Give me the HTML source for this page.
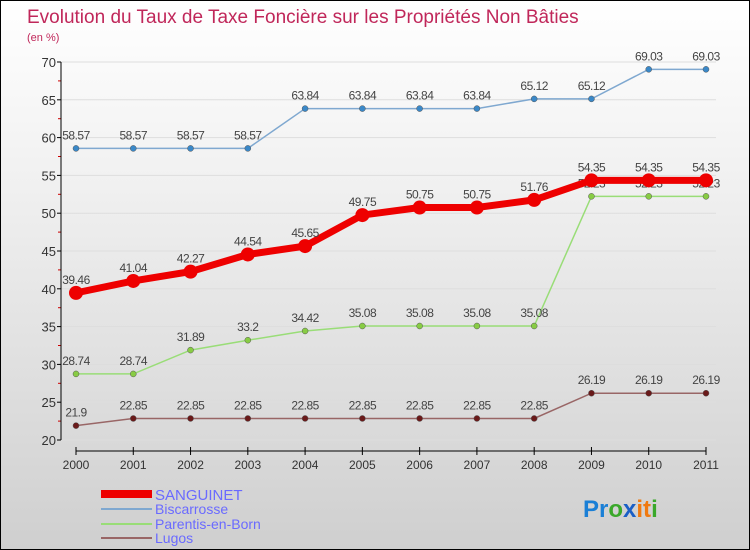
<!DOCTYPE html>
<html><head><meta charset="utf-8"><style>
body{margin:0;background:#fff}
#c{position:relative;width:748px;height:548px;border:1px solid #000;background:linear-gradient(#fff,#f2f2f2 30%,#cfcfcf);font-family:"Liberation Sans",sans-serif;overflow:hidden}
</style></head><body>
<div id="c">
<svg id="s" width="748" height="548">
<text x="26" y="22" font-size="19" fill="#c0275a">Evolution du Taux de Taxe Foncière sur les Propriétés Non Bâties</text>
<text x="26" y="40" font-size="11" fill="#c0275a">(en %)</text>
<g id="g"></g>
<g>
<rect x="100" y="489" width="51" height="8" fill="#e00"/>
<text x="154" y="499" font-size="15" fill="#6a6aff">SANGUINET</text>
<line x1="100" y1="508" x2="151" y2="508" stroke="#7fa8d0" stroke-width="2"/>
<text x="154" y="513" font-size="14" fill="#6a6aff">Biscarrosse</text>
<line x1="100" y1="523" x2="151" y2="523" stroke="#99dd77" stroke-width="2"/>
<text x="154" y="528" font-size="14" fill="#6a6aff">Parentis-en-Born</text>
<line x1="100" y1="537" x2="151" y2="537" stroke="#996666" stroke-width="2"/>
<text x="154" y="542" font-size="14" fill="#6a6aff">Lugos</text>
</g>
<text x="582" y="516" font-size="24" font-weight="bold"><tspan fill="#1a7fd6">Pr</tspan><tspan fill="#3aa82a">o</tspan><tspan fill="#1a5fc6">x</tspan><tspan fill="#f07a10">it</tspan><tspan fill="#3aa82a">i</tspan></text>
</svg>
</div>
<script>
const years=[2000,2001,2002,2003,2004,2005,2006,2007,2008,2009,2010,2011];
const yTicks=[20,25,30,35,40,45,50,55,60,65,70];
const sanguinet=[39.46,41.04,42.27,44.54,45.65,49.75,50.75,50.75,51.76,54.35,54.35,54.35];
const biscarrosse=[58.57,58.57,58.57,58.57,63.84,63.84,63.84,63.84,65.12,65.12,69.03,69.03];
const parentis=[28.74,28.74,31.89,33.2,34.42,35.08,35.08,35.08,35.08,52.23,52.23,52.23];
const lugos=[21.9,22.85,22.85,22.85,22.85,22.85,22.85,22.85,22.85,26.19,26.19,26.19];
const NS="http://www.w3.org/2000/svg",g=document.getElementById('g');
const X=i=>75+i*(630/11), Y=v=>439-(v-20)*(378/50);
function el(t,a,p){const e=document.createElementNS(NS,t);for(const k in a)e.setAttribute(k,a[k]);(p||g).appendChild(e);return e;}
// grid
yTicks.forEach(v=>{const l=el('line',{x1:60,x2:715,y1:Y(v),y2:Y(v),stroke:'#ddd'});


const t=el('text',{x:55,y:Y(v)+5,'font-size':13,fill:'#333','text-anchor':'end'});t.textContent=v;


el('line',{x1:56,x2:60,y1:Y(v),y2:Y(v),stroke:'#000'});
if(v<70)el('line',{x1:57,x2:60,y1:Y(v+2.5),y2:Y(v+2.5),stroke:'#c00'});});
el('line',{x1:60,x2:60,y1:Y(70),y2:Y(20),stroke:'#000'});
el('line',{x1:75,x2:705,y1:450,y2:450,stroke:'#000'});
years.forEach((y,i)=>{el('line',{x1:X(i),x2:X(i),y1:446,y2:454,stroke:'#000'});
const t=el('text',{x:X(i),y:468,'font-size':12,fill:'#333','text-anchor':'middle'});t.textContent=y;

});
function series(d,col,pt,w,r,name){
const p=el('polyline',{points:d.map((v,i)=>X(i)+','+Y(v)).join(' '),fill:'none',stroke:col,'stroke-width':w});


d.forEach((v,i)=>{const c=el('circle',{cx:X(i),cy:Y(v),r:r,fill:pt,stroke:w>3?'none':'#555','stroke-width':0.5});


const t=el('text',{x:X(i),y:Y(v)-9,'font-size':12,fill:'#444','text-anchor':'middle','letter-spacing':'-0.5'});t.textContent=v;

});}
series(biscarrosse,'#7fa8d0','#3a88c8',1.5,3,'biscarrosse');
series(parentis,'#99dd77','#88cc44',1.5,3,'parentis');
series(lugos,'#996666','#6a1a1a',1.5,3,'lugos');
series(sanguinet,'#e00','#e00',7,7,'sanguinet');
</script>
</body></html>
